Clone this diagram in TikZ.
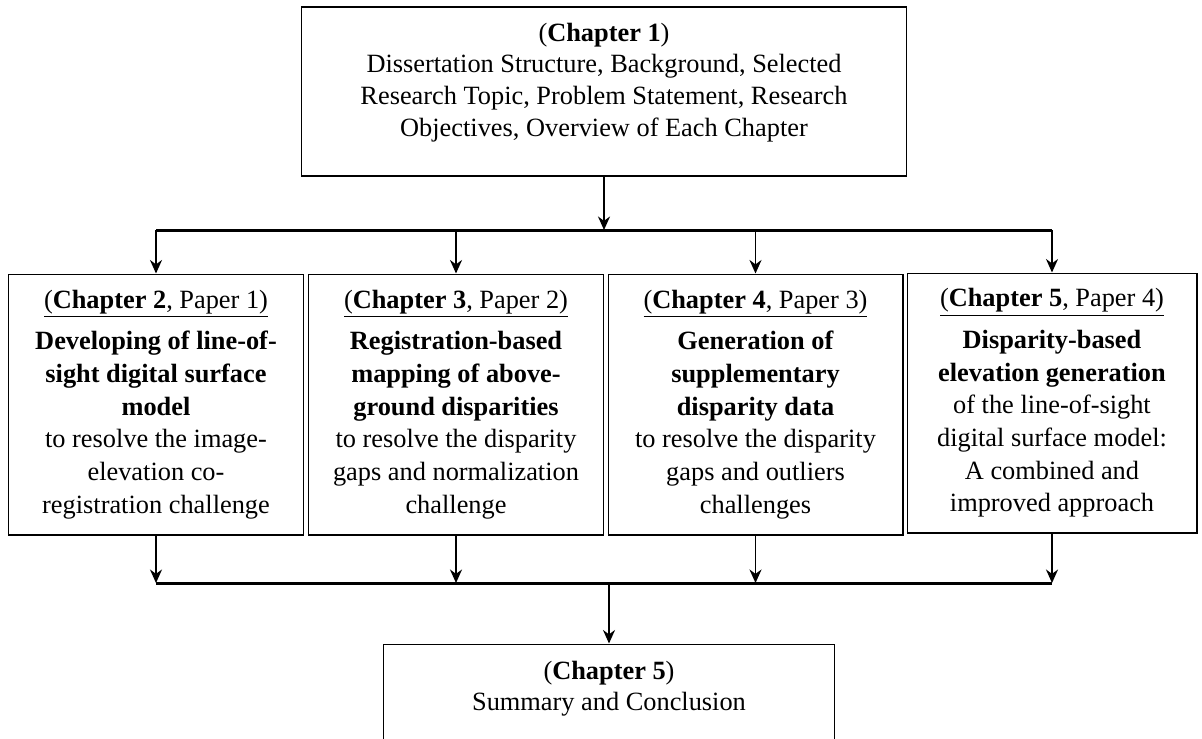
\documentclass[tikz,border=0pt]{standalone}
\usepackage{fontspec}
\setmainfont{Liberation Serif}
\usetikzlibrary{arrows.meta,positioning}

\tikzset{
  box/.style={draw, line width=0.6pt, inner sep=0pt},
  paper/.style={box, align=center, minimum width=5.9cm, minimum height=5.22cm,
    font=\fontsize{15}{18.6}\selectfont},
  txt/.style={align=center, inner sep=0pt},
  conn/.style={->, line width=1.1pt},
  bus/.style={line width=1.7pt},
}

\begin{document}
\begin{tikzpicture}[x=0.02cm, y=-0.02cm, >={Stealth[length=2.7mm,width=2.4mm]},
    font=\fontsize{15}{18}\selectfont]
  % рамка страницы
  \useasboundingbox (0,0) rectangle (1202,738);

  % общие параметры
  \def\ybusA{230}
  \def\ybusB{583}

  % глава 1
  \node[box, minimum width=12.12cm, minimum height=3.38cm] (ch1) at (604,91.5) {};
  \node[txt, below=0.32cm of ch1.north] (ch1txt) {(\textbf{Chapter 1})\\
    Dissertation Structure, Background, Selected\\
    Research Topic, Problem Statement, Research\\
    Objectives, Overview of Each Chapter};

  % статьи
  \node[paper] (p1) at (156,404.5) {\underline{(\textbf{Chapter 2}, Paper 1)}\\[5pt]
    \textbf{Developing of line-of-}\\ \textbf{sight digital surface}\\ \textbf{model}\\
    to resolve the image-\\ elevation co-\\ registration challenge};
  \node[paper] (p2) at (456,404.5) {\underline{(\textbf{Chapter 3}, Paper 2)}\\[5pt]
    \textbf{Registration-based}\\ \textbf{mapping of above-}\\ \textbf{ground disparities}\\
    to resolve the disparity\\ gaps and normalization\\ challenge};
  \node[paper] (p3) at (755.5,404.5) {\underline{(\textbf{Chapter 4}, Paper 3)}\\[5pt]
    \textbf{Generation of}\\ \textbf{supplementary}\\ \textbf{disparity data}\\
    to resolve the disparity\\ gaps and outliers\\ challenges};
  \node[paper, minimum width=5.8cm, minimum height=5.2cm] (p4) at (1052,403) {\underline{(\textbf{Chapter 5}, Paper 4)}\\[5pt]
    \textbf{Disparity-based}\\ \textbf{elevation generation}\\ of the line-of-sight\\
    digital surface model:\\ A combined and\\ improved approach};

  % заключение (обрезано снизу)
  \node[box, minimum width=9.04cm, minimum height=4cm] (concl) at (609,744) {};
  \node[txt, below=0.34cm of concl.north] (concltxt) {(\textbf{Chapter 5})\\ Summary and Conclusion};

  % шины и стрелки
  \coordinate (busA) at (604,\ybusA);
  \coordinate (busB) at (609,\ybusB);

  \draw[conn] (ch1) -- (busA);
  \draw[bus] (p1 |- busA) -- (p4 |- busA);
  \foreach \p in {p1,p2,p3,p4}
    \draw[conn] (\p |- busA) -- (\p);

  \foreach \p in {p1,p2,p3,p4}
    \draw[conn] (\p) -- (\p |- busB);
  \draw[bus] (p1 |- busB) -- (p4 |- busB);
  \draw[conn] (busB) -- (concl);
\end{tikzpicture}
\end{document}
